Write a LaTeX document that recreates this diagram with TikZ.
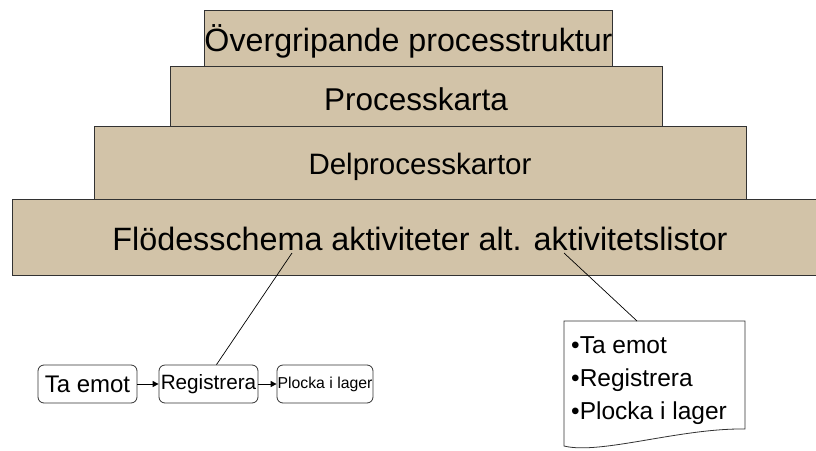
\documentclass[tikz,border=0pt]{standalone}
\usepackage{fontspec}
\setmainfont{Liberation Sans}
\usetikzlibrary{arrows.meta}
\definecolor{tierfill}{RGB}{210,195,168}
\definecolor{edge}{RGB}{50,50,50}
\tikzset{
  tier/.style={draw=edge, line width=1pt, fill=tierfill, inner sep=0pt, anchor=center},
  stepbox/.style={draw=edge, line width=0.8pt, rounded corners=6pt, inner sep=0pt, minimum height=38pt},
  flow/.style={-{Triangle[length=6pt,width=6pt]}, line width=1pt, black},
  callout/.style={line width=0.7pt, black},
}
% lower a label inside its box without changing the box size
\newcommand{\tierlabel}[2]{\raisebox{-#1pt}[\height][\depth]{#2}}
\begin{document}
\begin{tikzpicture}[x=1pt, y=-1pt]
  \useasboundingbox (0,0) rectangle (816,450);
  \clip (0,0) rectangle (816,450);

  % pyramid of process levels, widest at the bottom
  \node[tier, minimum width=816pt, minimum height=76pt, font=\fontsize{32.3}{36}\selectfont] (t4) at (420,237)
    {\tierlabel{2}{Flödesschema aktiviteter alt. aktivitetslistor}};
  \node[tier, minimum width=652pt, minimum height=73pt, font=\fontsize{29.5}{33}\selectfont] (t3) at (420,162.5)
    {\tierlabel{4}{Delprocesskartor}};
  \node[tier, minimum width=492pt, minimum height=60pt, font=\fontsize{31.5}{35}\selectfont] (t2) at (416,96)
    {\tierlabel{3}{Processkarta}};
  \node[tier, minimum width=403pt, minimum height=56pt, font=\fontsize{32.2}{36}\selectfont] (t1) at (408.5,38)
    {\tierlabel{3.5}{Övergripande processtruktur}};

  % activity flow chart
  \node[stepbox, minimum width=99pt, font=\fontsize{24}{27}\selectfont] (s1) at (87.5,384) {Ta emot};
  \node[stepbox, minimum width=99pt, font=\fontsize{20.7}{24}\selectfont] (s2) at (208.5,384) {Registrera};
  \node[stepbox, minimum width=96pt, font=\fontsize{15.8}{18}\selectfont] (s3) at (325,384) {Plocka i lager};
  \draw[flow] (s1) -- (s2);
  \draw[flow] (s2) -- (s3);

  % activity list on a document sheet
  \draw[edge, line width=0.8pt, fill=white]
    (564,321) -- (745,321) -- (745,429)
    .. controls (680,428) and (600,455) .. (564,446) -- cycle;
  \coordinate (doctop) at (637,321);
  \node[anchor=west, font=\fontsize{24.5}{27}\selectfont, align=left, inner sep=0pt] (list) at (571,381)
    {•Ta emot\\[6pt]•Registrera\\[6pt]•Plocka i lager};

  % callouts from the bottom level
  \coordinate (flowref) at (292,253);
  \coordinate (listref) at (564,253);
  \draw[callout] (flowref) -- ([xshift=8pt]s2.north);
  \draw[callout] (listref) -- (doctop);
\end{tikzpicture}
\end{document}
